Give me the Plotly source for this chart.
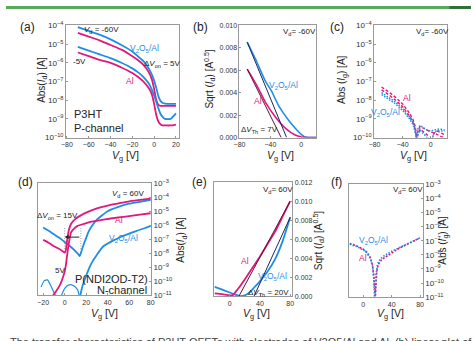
import plotly.graph_objects as go

W, H = 474, 341
BLUE = "#1f8de3"
PINK = "#e0187c"
NAVY = "#1c2464"
MAROON = "#5c1234"
GRAY = "#999999"
TXT = "#222222"
FONT = "Liberation Sans, Arial, sans-serif"

# ---------------- (a) P3HT transfer, log10|Id| ----------------
a_vg = [-70, -60, -50, -40, -30, -20, -15, -10, -5, -2, 0, 2, 4, 6, 8, 10, 15, 20]
a_blue_60 = [-4.1, -4.3, -4.5, -4.75, -5.05, -5.4, -5.65, -5.9, -6.3, -6.65, -6.95, -7.35, -7.8, -8.05, -8.15, -8.18, -8.2, -8.2]
a_pink_60 = [-4.4, -4.6, -4.8, -5.05, -5.3, -5.65, -5.85, -6.1, -6.5, -6.9, -7.4, -8.0, -8.25, -8.3, -8.3, -8.3, -8.3, -8.3]
a_blue_5 = [-5.15, -5.35, -5.55, -5.75, -6.0, -6.3, -6.5, -6.75, -7.1, -7.45, -7.75, -8.1, -8.45, -8.75, -8.9, -9.0, -9.0, -8.7]
a_pink_5 = [-5.45, -5.65, -5.85, -6.0, -6.25, -6.55, -6.75, -7.0, -7.35, -7.7, -8.2, -8.8, -9.15, -9.3, -9.35, -9.35, -9.35, -9.3]
a_xticks = [-80, -60, -40, -20, 0, 20]

# ---------------- (b) P3HT sqrt(Id) ----------------
b_vg_blue = [-70, -58, -47, -39, -29, -16, -5.5, 1, 5, 10, 20]
b_blue = [0.0085, 0.0068, 0.0051, 0.0042, 0.0028, 0.0015, 0.00066, 0.00023, 0.00005, 0.00001, 0.00001]
b_vg_pink = [-70, -58, -46, -33, -20, -8, 1, 9, 20]
b_pink = [0.0061, 0.0047, 0.0031, 0.0018, 0.0008, 0.00023, 0.00006, 0.0, 0.0]
b_fit_blue_vg = [-70, -19]
b_fit_blue = [0.0085, 0.0]
b_fit_pink_vg = [-70, -26]
b_fit_pink = [0.0061, 0.0]

# ---------------- (c) P3HT gate leakage log10|Ig| ----------------
c_vg = [-70, -60, -50, -40, -30, -25, -22, -20, -18, -15, -10, -5, 0, 5, 10, 15, 20]
c_pink1 = [-7.3, -7.55, -7.85, -8.2, -8.7, -9.05, -9.4, -9.9, -9.6, -9.4, -9.5, -9.6, -9.7, -9.75, -9.85, -9.95, -10.0]
c_pink2 = [-7.45, -7.7, -8.0, -8.35, -8.85, -9.2, -9.6, -10.2, -9.8, -9.55, -9.7, -9.85, -10.3, -9.75, -9.65, -9.75, -9.85]
c_blue1 = [-7.6, -7.85, -8.1, -8.45, -8.9, -9.2, -9.55, -10.2, -9.5, -9.35, -9.5, -9.6, -9.65, -9.6, -9.55, -9.55, -9.6]
c_blue2 = [-7.7, -7.95, -8.2, -8.55, -9.0, -9.3, -9.7, -10.0, -9.8, -9.6, -9.8, -10.0, -10.4, -9.7, -9.65, -9.65, -9.65]

# ---------------- (d) P(NDI2OD-T2) transfer, log10|Id| ----------------
d_vg_pink_hi = [-20, -15, -10, -5, -2, 0, 1, 2, 3, 4, 6, 10, 15, 20, 30, 40, 50, 60, 70, 80]
d_pink_hi = [-7.05, -7.25, -7.5, -7.7, -7.85, -7.95, -7.8, -7.2, -6.7, -6.3, -5.9, -5.55, -5.3, -5.1, -4.8, -4.6, -4.45, -4.3, -4.2, -4.1]
d_vg_pink_lo = [-14, -8, -4, -2, 0, 1, 2, 3, 4, 5, 6, 8, 12, 18, 25, 36, 50, 60, 70, 80]
d_pink_lo = [-11.3, -10.7, -10.2, -9.8, -9.3, -8.9, -8.3, -7.7, -7.2, -6.8, -6.5, -6.3, -6.05, -5.9, -5.75, -5.6, -5.45, -5.35, -5.25, -5.15]
d_vg_blue_hi = [-20, -15, -10, -5, 0, 5, 10, 13, 14, 15, 16, 18, 20, 22, 25, 30, 40, 50, 60, 70, 80]
d_blue_hi = [-6.17, -6.4, -6.65, -6.9, -7.2, -7.5, -7.85, -8.1, -8.2, -8.0, -7.75, -7.3, -6.9, -6.5, -6.1, -5.6, -5.0, -4.7, -4.47, -4.33, -4.2]
d_vg_blue_lo = [14, 16, 18, 20, 22, 25, 30, 36, 45, 52, 60, 67, 75, 80]
d_blue_lo = [-11.2, -10.5, -10.0, -9.6, -9.2, -8.7, -8.1, -7.5, -7.1, -6.84, -6.6, -6.4, -6.2, -6.05]
d_vg_blue_leak1 = [-22, -19, -16, -13, -10, -7]
d_blue_leak1 = [-10.4, -9.95, -9.9, -10.3, -10.8, -11.2]
d_vg_blue_leak2 = [-4, 0, 4, 8, 12, 14]
d_blue_leak2 = [-11.2, -10.5, -10.25, -10.3, -10.6, -11.2]
d_dvon = [0, 15]
d_xticks = [-20, 0, 20, 40, 60, 80]

# ---------------- (e) P(NDI2OD-T2) sqrt(Id) ----------------
e_vg_pink = [-20, -10, 0, 4, 8, 12, 20, 30, 40, 50, 60, 70, 80]
e_pink = [0.00032, 0.00022, 0.0001, 0.00012, 0.0005, 0.0009, 0.0018, 0.003, 0.0042, 0.0055, 0.0068, 0.0084, 0.0100]
e_vg_blue = [-20, -10, 0, 8, 14, 20, 26, 32, 40, 50, 60, 70, 80]
e_blue = [0.001, 0.0007, 0.0004, 0.00015, 0.00002, 0.0001, 0.0004, 0.0009, 0.0016, 0.0026, 0.0039, 0.0058, 0.0083]
e_fit_pink_vg = [12, 80]
e_fit_pink = [0.0, 0.0100]
e_fit_blue_vg = [32, 80]
e_fit_blue = [0.0, 0.0083]

# ---------------- (f) P(NDI2OD-T2) gate leakage log10|Ig| ----------------
f_vg_pink = [-19, -10, 0, 5, 10, 13, 15, 16, 17, 18, 19, 21, 25, 30, 40, 50, 60, 70, 80]
f_pink = [-7.2, -7.35, -7.6, -7.8, -8.2, -8.7, -9.5, -10.3, -11.2, -10.0, -9.2, -8.7, -8.4, -8.2, -7.85, -7.55, -7.3, -7.05, -6.8]
f_vg_blue = [-19, -10, 0, 5, 10, 13, 15, 16, 17, 18, 20, 22, 25, 30, 40, 50, 60, 70, 80]
f_blue = [-7.25, -7.4, -7.65, -7.85, -8.25, -8.8, -9.8, -11.2, -10.5, -9.4, -8.7, -8.45, -8.25, -8.05, -7.75, -7.5, -7.25, -7.0, -6.8]
ef_xticks = [0, 40, 80]
bc_xticks = [-80, -40, 0]

fig = go.Figure()


def L(v):
    return [10 ** t for t in v]


def line(ax, x, y, color, width=1.6, dash="solid", log=False, shape="spline"):
    fig.add_trace(go.Scatter(
        x=x, y=L(y) if log else y, mode="lines",
        line=dict(color=color, width=width, dash=dash, shape=shape,
                  smoothing=0.5 if shape == "spline" else None),
        xaxis="x" + ax, yaxis="y" + ax, showlegend=False, hoverinfo="skip"))


# (a)
line("", a_vg, a_blue_60, BLUE, 1.8, log=True)
line("", a_vg, a_pink_60, PINK, 1.8, log=True)
line("", a_vg, a_blue_5, BLUE, 1.8, log=True)
line("", a_vg, a_pink_5, PINK, 1.8, log=True)
# (b)
line("2", b_vg_blue, b_blue, BLUE, 1.6)
line("2", b_vg_pink, b_pink, PINK, 1.6)
line("2", b_fit_blue_vg, b_fit_blue, NAVY, 1.0, shape="linear")
line("2", b_fit_pink_vg, b_fit_pink, MAROON, 1.0, shape="linear")
# (c)
line("3", c_vg, c_pink1, PINK, 1.4, dash="3px,2px", log=True, shape="linear")
line("3", c_vg, c_pink2, PINK, 1.4, dash="3px,2px", log=True, shape="linear")
line("3", c_vg, c_blue1, BLUE, 1.5, dash="1.5px,1.5px", log=True, shape="linear")
line("3", c_vg, c_blue2, BLUE, 1.5, dash="1.5px,1.5px", log=True, shape="linear")
# (d)
line("4", d_vg_blue_leak1, d_blue_leak1, BLUE, 1.2, log=True)
line("4", d_vg_blue_leak2, d_blue_leak2, BLUE, 1.2, log=True)
line("4", d_vg_blue_hi, d_blue_hi, BLUE, 1.8, log=True)
line("4", d_vg_blue_lo, d_blue_lo, BLUE, 1.8, log=True)
line("4", d_vg_pink_hi, d_pink_hi, PINK, 1.8, log=True)
line("4", d_vg_pink_lo, d_pink_lo, PINK, 1.8, log=True)
for v in d_dvon:
    line("4", [v, v], [-7.7, -6.2], "#888888", 0.8, dash="1px,1.5px", log=True, shape="linear")
# (e)
line("5", e_vg_blue, e_blue, BLUE, 1.8)
line("5", e_vg_pink, e_pink, PINK, 1.8)
line("5", e_fit_pink_vg, e_fit_pink, MAROON, 1.0, shape="linear")
line("5", e_fit_blue_vg, e_fit_blue, NAVY, 1.0, shape="linear")
# (f)
line("6", f_vg_pink, f_pink, PINK, 1.6, dash="2px,1.5px", log=True, shape="linear")
line("6", f_vg_blue, f_blue, BLUE, 1.6, dash="1.5px,1.5px", log=True, shape="linear")


def dx(a, b):
    return [a / W, b / W]


def dy(top, bottom):
    return [1 - bottom / H, 1 - top / H]


TICKF = dict(family=FONT, size=7, color="#333333")
TICKL = dict(family=FONT, size=6.5, color="#333333")
base = dict(showline=True, linecolor=GRAY, linewidth=1, mirror=True, ticks="inside",
            ticklen=2, tickcolor=GRAY, showgrid=False, zeroline=False, tickfont=TICKF)
logy = dict(type="log", dtick=1, exponentformat="power", showexponent="all")

fig.update_layout(
    width=W, height=H, margin=dict(l=0, r=0, t=0, b=0),
    paper_bgcolor="white", plot_bgcolor="white", font=dict(family=FONT, color=TXT),
    xaxis=dict(base, domain=dx(61, 176), range=[-81, 22.5], tickvals=a_xticks, anchor="y"),
    yaxis=dict(base, **logy, domain=dy(20, 136), range=[-10, -4], anchor="x"),
    xaxis2=dict(base, domain=dx(238, 316), range=[-80, 19], tickvals=bc_xticks, anchor="y2"),
    yaxis2=dict(base, domain=dy(20, 136), range=[0, 0.010], dtick=0.002, tickformat=".3f", anchor="x2"),
    xaxis3=dict(base, domain=dx(375, 450), range=[-81, 24], tickvals=bc_xticks, anchor="y3"),
    yaxis3=dict(base, **logy, domain=dy(20, 136), range=[-10, -4], anchor="x3"),
    xaxis4=dict(base, domain=dx(33, 148), range=[-24.5, 80.5], tickvals=d_xticks, anchor="y4"),
    yaxis4=dict(base, **logy, domain=dy(183, 299), range=[-11, -3], side="right", anchor="x4"),
    xaxis5=dict(base, domain=dx(212, 292), range=[-21, 83], tickvals=ef_xticks, anchor="y5"),
    yaxis5=dict(base, domain=dy(182, 300), range=[0, 0.012], dtick=0.002, tickformat=".3f", side="right", anchor="x5"),
    xaxis6=dict(base, domain=dx(350, 425), range=[-19.5, 84], tickvals=ef_xticks, anchor="y6"),
    yaxis6=dict(base, **logy, domain=dy(184, 301), range=[-11, -3], side="right", anchor="x6"),
)
for ax in ["yaxis", "yaxis3", "yaxis4", "yaxis6"]:
    fig.layout[ax].tickfont = TICKL

anns = []


def ann(x, y, text, size=8, color=TXT, xanchor="center", yanchor="middle", angle=0):
    anns.append(dict(x=x / W, y=1 - y / H, xref="paper", yref="paper", text=text, showarrow=False,
                     font=dict(family=FONT, size=size, color=color), xanchor=xanchor, yanchor=yanchor,
                     textangle=angle))


VD = "<i>V</i><sub>d</sub>"
VO = "V<sub>2</sub>O<sub>5</sub>/Al"
VG = "<i>V</i><sub>g</sub> [V]"

# panel letters
for (x, y, t) in [(22, 22, "(a)"), (198, 22, "(b)"), (337, 22, "(c)"),
                  (20, 182, "(d)"), (197, 182, "(e)"), (337, 182, "(f)")]:
    ann(x, y, t, 12)

# axis titles
for (x, y) in [(122, 155), (280, 155), (415, 155), (100, 318), (255, 318), (392, 318)]:
    ann(x, y, VG, 10.5)
ann(36, 76, "Abs(<i>I</i><sub>d</sub>) [A]", 10, angle=-90)
ann(207, 76, "Sqrt (<i>I</i><sub>d</sub>) [A<sup>0.5</sup>]", 10, angle=-90)
ann(343, 76, "Abs (<i>I</i><sub>g</sub>) [A]", 10, angle=-90)
ann(179, 242, "Abs(<i>I</i><sub>d</sub>) [A]", 10, angle=-90)
ann(318, 242, "Sqrt (<i>I</i><sub>d</sub>) [A<sup>0.5</sup>]", 10, angle=-90)
ann(446, 242, "Abs (<i>I</i><sub>g</sub>) [A]", 10, angle=-90)

# (a)
ann(97, 25, VD + " = -60V", 8)
ann(141, 44, VO, 8.5, BLUE)
ann(75, 57, "-5V", 8)
ann(159, 60, "\u0394<i>V</i><sub>on</sub> = 5V", 8)
ann(126, 77, "Al", 8.5, PINK)
ann(67, 112, "P3HT", 11, xanchor="left")
ann(67, 126, "P-channel", 11, xanchor="left")
# (b)
ann(299, 27, "V<sub>d</sub>= -60V", 8)
ann(283, 82, VO, 8.5, BLUE)
ann(257, 98, "Al", 8.5, PINK)
ann(258, 128, "\u0394<i>V</i><sub>Th</sub> = 7V", 8)
# (c)
ann(435, 27, "V<sub>d</sub>= -60V", 8)
ann(409, 95, "Al", 8.5, PINK)
ann(387, 110, VO, 8.5, BLUE)
# (d)
ann(124, 194, VD + " = 60V", 8)
ann(52, 217, "\u0394<i>V</i><sub>on</sub> = 15V", 8)
ann(115, 221, "Al", 8.5, PINK)
ann(120, 240, VO, 8.5, BLUE)
ann(55, 273, "5V", 8)
ann(147, 282, "P(NDI2OD-T2)", 11, xanchor="right")
ann(146, 293, "N-channel", 11, xanchor="right")
# (e)
ann(277, 190, "V<sub>d</sub>= 60V", 8)
ann(244, 263, "Al", 8.5, PINK)
ann(272, 280, VO, 8.5, BLUE)
ann(268, 297, "\u0394<i>V</i><sub>Th</sub> = 20V", 8)
# (f)
ann(410, 190, "V<sub>d</sub>= 60V", 8)
ann(375, 242, VO, 8.5, BLUE)
ann(364, 260, "Al", 8.5, PINK)

# caption (cut off at the bottom of the image, as in the reference)
ann(2, 339, "The transfer characteristics of P3HT OFETs with electrodes of V2O5/Al and Al. (b) linear plot of",
    11, "#444444", xanchor="left", yanchor="top")

# ΔV_on arrow in (d)
anns.append(dict(x=d_dvon[0], y=-6.85, ax=d_dvon[1], ay=-6.85, xref="x4", yref="y4", axref="x4", ayref="y4",
                 showarrow=True, arrowhead=2, arrowsize=0.8, arrowwidth=1, arrowcolor="#222222", text=""))

fig.update_layout(annotations=anns)

fig.update_layout(shapes=[
    dict(type="rect", xref="paper", yref="paper", x0=0, x1=1, y0=1 - 3 / H, y1=1,
         fillcolor="#5aa85c", line=dict(width=0), layer="above"),
    dict(type="rect", xref="paper", yref="paper", x0=452 / W, x1=1, y0=1 - 3 / H, y1=1,
         fillcolor="#2f6e37", line=dict(width=0), layer="above"),
])

fig.write_html("out.html")
